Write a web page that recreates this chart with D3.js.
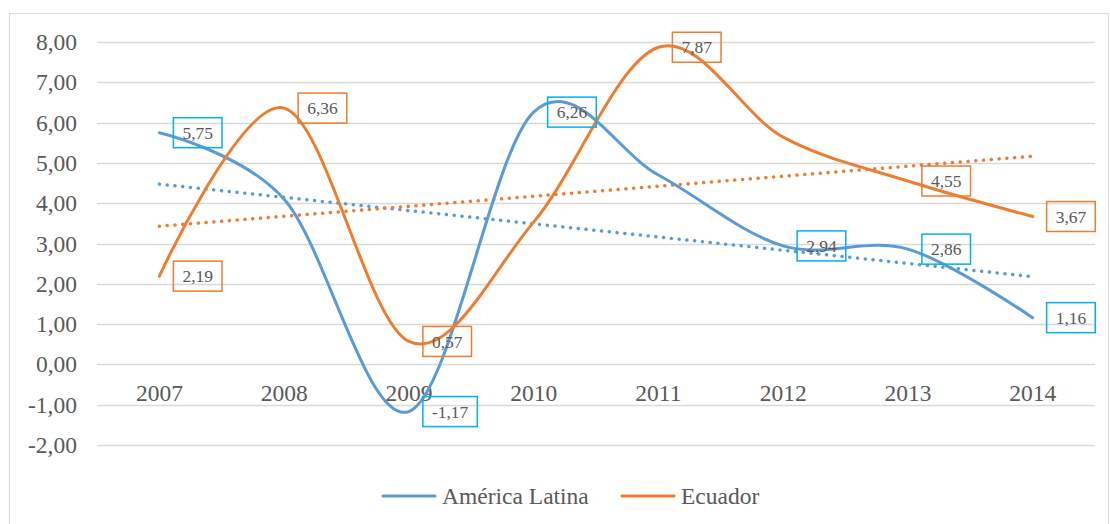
<!DOCTYPE html>
<html>
<head>
<meta charset="utf-8">
<script src="https://cdn.jsdelivr.net/npm/d3@7/dist/d3.min.js"></script>
<style>
    body { margin: 0; background: #fff; }
    text { font-family: "Liberation Serif", "Times New Roman", serif; fill: #595959; }
</style>
</head>
<body>
<div id="chart"></div>
<script>

// chart data
var years = ["2007", "2008", "2009", "2010", "2011", "2012", "2013", "2014"];
var americaLatina = [5.75, 4.10, -1.17, 6.26, 4.70, 2.94, 2.86, 1.16];
var ecuador = [2.19, 6.36, 0.57, 3.53, 7.87, 5.64, 4.55, 3.67];
// which points carry a data label
var labelAL = [true, false, true, true, false, true, true, true];
var labelEC = [true, true, true, false, true, false, true, true];
var yTicks = [-2, -1, 0, 1, 2, 3, 4, 5, 6, 7, 8];

var series = [
    { name: "América Latina", values: americaLatina, labels: labelAL, color: "#5B9BD5", box: "#00B0F0" },
    { name: "Ecuador", values: ecuador, labels: labelEC, color: "#ED7D31", box: "#ED7D31" }
];

var FONT = "'Liberation Serif', 'Times New Roman', serif";

var width = 1110, height = 524;
var margin = { left: 97, right: 15, top: 42, bottom: 79 };

var svg = d3.select("#chart").append("svg")
    .attr("width", width)
    .attr("height", height);

// chart frame
svg.append("rect")
    .attr("x", 9.5).attr("y", 13.5)
    .attr("width", 1099).attr("height", 530)
    .attr("fill", "none")
    .attr("stroke", "#d9d9d9")
    .attr("stroke-width", 1);

var x = d3.scaleBand()
    .domain(years)
    .range([margin.left, width - margin.right]);

var y = d3.scaleLinear()
    .domain([-2, 8])
    .range([445, 42]);

var fmt = function(v) { return d3.format(".2f")(v).replace(".", ",").replace("−", "-"); };

// gridlines
svg.append("g").selectAll("line")
    .data(yTicks)
    .enter().append("line")
    .attr("x1", margin.left)
    .attr("x2", width - margin.right)
    .attr("y1", function(d) { return Math.round(y(d)) + 0.5; })
    .attr("y2", function(d) { return Math.round(y(d)) + 0.5; })
    .attr("stroke", "#d9d9d9")
    .attr("stroke-width", 1.5);

// y axis labels
var yAxis = d3.axisLeft(y).tickValues(yTicks).tickFormat(fmt).tickSize(0).tickPadding(20);
var gy = svg.append("g")
    .attr("transform", "translate(" + margin.left + ",0)")
    .call(yAxis)
    .attr("font-family", FONT);
gy.select(".domain").remove();
gy.selectAll("text")
    .style("font-size", "23.5px")
    .style("font-family", FONT)
    .attr("fill", "#595959");

// x axis labels sit just under the zero line
var xAxis = d3.axisBottom(x).tickSize(0).tickPadding(20);
var gx = svg.append("g")
    .attr("transform", "translate(0," + y(0) + ")")
    .call(xAxis)
    .attr("font-family", FONT);
gx.select(".domain").remove();
gx.selectAll("text")
    .style("font-size", "23.5px")
    .style("font-family", FONT)
    .attr("fill", "#595959");

var cx = function(i) { return x(years[i]) + x.bandwidth() / 2; };

// linear trend lines (least squares)
series.forEach(function(s) {
    var n = s.values.length;
    var mx = d3.mean(d3.range(n));
    var my = d3.mean(s.values);
    var num = d3.sum(s.values, function(v, i) { return (i - mx) * (v - my); });
    var den = d3.sum(d3.range(n), function(i) { return (i - mx) * (i - mx); });
    var slope = num / den, icpt = my - slope * mx;
    svg.append("line")
        .attr("x1", cx(0)).attr("y1", y(icpt))
        .attr("x2", cx(n - 1)).attr("y2", y(icpt + slope * (n - 1)))
        .attr("stroke", s.color)
        .attr("stroke-width", 3.5)
        .attr("stroke-linecap", "round")
        .attr("stroke-dasharray", "0.1 7.7");
});

// smoothed lines
var line = d3.line()
    .x(function(d, i) { return cx(i); })
    .y(function(d) { return y(d); })
    .curve(d3.curveCatmullRom.alpha(0));

series.forEach(function(s) {
    svg.append("path")
        .datum(s.values)
        .attr("d", line)
        .attr("fill", "none")
        .attr("stroke", s.color)
        .attr("stroke-width", 3)
        .attr("stroke-linecap", "round");
});

// data labels
series.forEach(function(s) {
    s.values.forEach(function(v, i) {
        if (!s.labels[i]) return;
        var g = svg.append("g")
            .attr("transform", "translate(" + (cx(i) + 14) + "," + y(v) + ")");
        var box = g.append("rect");
        var t = g.append("text")
            .attr("x", 9)
            .attr("dy", "0.35em")
            .style("font-size", "17.5px")
            .style("font-family", FONT)
            .attr("fill", "#404040")
            .text(fmt(v));
        var w = t.node().getComputedTextLength() + 18;
        box.attr("x", 0).attr("y", -15)
            .attr("width", w).attr("height", 30)
            .attr("fill", "none")
            .attr("stroke", s.box)
            .attr("stroke-width", 1.5);
    });
});

// legend
var legend = svg.append("g");
var lx = [383, 622];
series.forEach(function(s, i) {
    legend.append("line")
        .attr("x1", lx[i]).attr("x2", lx[i] + 52)
        .attr("y1", 496).attr("y2", 496)
        .attr("stroke", s.color)
        .attr("stroke-width", 3)
        .attr("stroke-linecap", "round");
    legend.append("text")
        .attr("x", lx[i] + 59)
        .attr("y", 504)
        .style("font-size", "23.5px")
        .style("font-family", FONT)
        .text(s.name);
});

</script>
</body>
</html>
